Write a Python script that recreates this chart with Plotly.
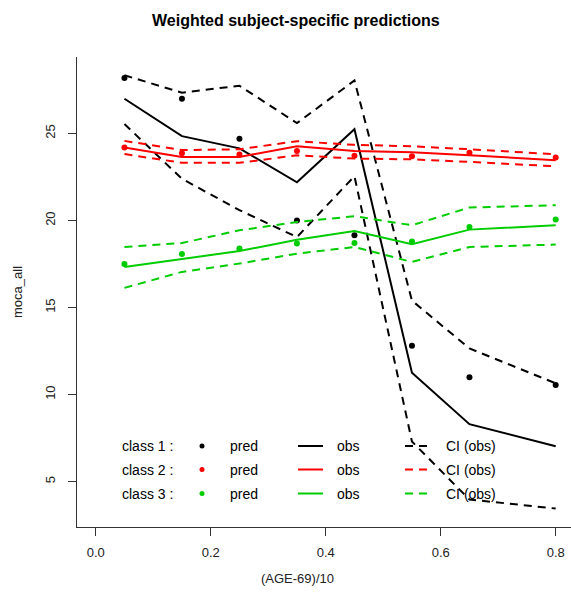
import plotly.graph_objects as go

# ---------------- data ----------------
x_vals = [0.05, 0.15, 0.25, 0.35, 0.45, 0.55, 0.65, 0.80]

c1_pred = [28.2, 27.0, 24.7, 20.0, 19.15, 12.8, 11.0, 10.55]
c1_obs = [27.0, 24.85, 24.15, 22.2, 25.25, 11.25, 8.3, 7.03]
c1_up = [28.35, 27.35, 27.75, 25.6, 28.05, 15.4, 12.65, 10.65]
c1_lo = [25.55, 22.4, 20.6, 19.05, 22.55, 7.3, 3.97, 3.45]

c2_pred = [24.2, 23.87, 23.8, 24.0, 23.72, 23.7, 23.9, 23.62]
c2_obs = [24.2, 23.66, 23.66, 24.27, 24.0, 23.93, 23.75, 23.47]
c2_up = [24.58, 24.05, 24.1, 24.56, 24.35, 24.27, 24.1, 23.81]
c2_lo = [23.82, 23.32, 23.32, 23.75, 23.56, 23.52, 23.37, 23.12]

c3_pred = [17.5, 18.08, 18.4, 18.68, 18.71, 18.79, 19.63, 20.06]
c3_obs = [17.33, 17.8, 18.25, 18.9, 19.4, 18.64, 19.48, 19.73]
c3_up = [18.48, 18.71, 19.44, 19.92, 20.25, 19.73, 20.75, 20.88]
c3_lo = [16.13, 17.05, 17.53, 18.1, 18.48, 17.62, 18.48, 18.62]

x_ticks = [0.0, 0.2, 0.4, 0.6, 0.8]
x_tick_labels = ["0.0", "0.2", "0.4", "0.6", "0.8"]
y_ticks = [5, 10, 15, 20, 25]
y_tick_labels = ["5", "10", "15", "20", "25"]

class_labels = ["class 1 :", "class 2 :", "class 3 :"]
colors = ["#000000", "#FF0000", "#00CD00"]

title_text = "Weighted subject-specific predictions"
x_title = "(AGE-69)/10"
y_title = "moca_all"

# ---------------- figure ----------------
W, H = 571, 598
ML, MR, MT, MB = 77, 0, 57, 71
PW = W - ML - MR
PH = H - MT - MB

def px_x(p):
    return (p - ML) / PW

def px_y(p):
    return (H - MB - p) / PH

fig = go.Figure()

DASH = "8px,6px"
series = [
    (c1_pred, c1_obs, c1_up, c1_lo),
    (c2_pred, c2_obs, c2_up, c2_lo),
    (c3_pred, c3_obs, c3_up, c3_lo),
]
for (pred, obs, up, lo), col in zip(series, colors):
    fig.add_trace(go.Scatter(x=x_vals, y=up, mode="lines",
                             line=dict(color=col, width=2, dash=DASH),
                             showlegend=False, hoverinfo="skip"))
    fig.add_trace(go.Scatter(x=x_vals, y=lo, mode="lines",
                             line=dict(color=col, width=2, dash=DASH),
                             showlegend=False, hoverinfo="skip"))
    fig.add_trace(go.Scatter(x=x_vals, y=obs, mode="lines",
                             line=dict(color=col, width=2),
                             showlegend=False))
    fig.add_trace(go.Scatter(x=x_vals, y=pred, mode="markers",
                             marker=dict(color=col, size=6),
                             showlegend=False))

# ---------------- legend (drawn on helper axes 0..1) ----------------
rows_px = [446, 469.5, 493.5]
dot_px = 202
line_px = (298, 323)
dash_px = (405, 429)
text_font = dict(family="Liberation Sans, Arial, sans-serif", size=14, color="#000000")
annotations = []
for lab, col, ry in zip(class_labels, colors, rows_px):
    yy = px_y(ry)
    fig.add_trace(go.Scatter(x=[px_x(dot_px)], y=[yy], mode="markers",
                             marker=dict(color=col, size=5),
                             xaxis="x2", yaxis="y2", showlegend=False, hoverinfo="skip"))
    fig.add_trace(go.Scatter(x=[px_x(line_px[0]), px_x(line_px[1])], y=[yy, yy], mode="lines",
                             line=dict(color=col, width=2),
                             xaxis="x2", yaxis="y2", showlegend=False, hoverinfo="skip"))
    fig.add_trace(go.Scatter(x=[px_x(dash_px[0]), px_x(dash_px[1])], y=[yy, yy], mode="lines",
                             line=dict(color=col, width=2, dash="8px,6px"),
                             xaxis="x2", yaxis="y2", showlegend=False, hoverinfo="skip"))
    for txt, xl in [(lab, 120), ("pred", 228), ("obs", 335), ("CI (obs)", 444)]:
        annotations.append(dict(text=txt, x=px_x(xl), y=yy, xref="paper", yref="paper",
                                xanchor="left", yanchor="middle", showarrow=False,
                                font=text_font))

annotations.append(dict(text="<b>" + title_text + "</b>", x=px_x(296), y=px_y(21),
                        xref="paper", yref="paper", xanchor="center", yanchor="middle",
                        showarrow=False,
                        font=dict(family="Liberation Sans, Arial, sans-serif", size=16, color="#000000")))
annotations.append(dict(text=x_title, x=px_x(297), y=px_y(578),
                        xref="paper", yref="paper", xanchor="center", yanchor="middle",
                        showarrow=False,
                        font=dict(family="Liberation Sans, Arial, sans-serif", size=13, color="#222222")))
annotations.append(dict(text=y_title, x=px_x(17), y=px_y(292), textangle=-90,
                        xref="paper", yref="paper", xanchor="center", yanchor="middle",
                        showarrow=False,
                        font=dict(family="Liberation Sans, Arial, sans-serif", size=13, color="#222222")))

axis_font = dict(family="Liberation Sans, Arial, sans-serif", size=13, color="#222222")
fig.update_layout(
    width=W, height=H,
    margin=dict(l=ML, r=MR, t=MT, b=MB, pad=0),
    paper_bgcolor="white", plot_bgcolor="white",
    showlegend=False,
    annotations=annotations,
    xaxis=dict(range=[-0.0325, 0.8266], tickvals=x_ticks, ticktext=x_tick_labels,
               showgrid=False, zeroline=False, showline=True, linecolor="#333333", linewidth=1,
               ticks="outside", ticklen=8, tickcolor="#333333", tickfont=axis_font,
               ticklabelstandoff=5, fixedrange=True),
    yaxis=dict(range=[2.39, 29.4], tickvals=y_ticks, ticktext=y_tick_labels, tickangle=-90,
               showgrid=False, zeroline=False, showline=True, linecolor="#333333", linewidth=1,
               ticks="outside", ticklen=8, tickcolor="#333333", tickfont=axis_font,
               ticklabelstandoff=8, fixedrange=True),
    xaxis2=dict(range=[0, 1], overlaying="x", visible=False, fixedrange=True),
    yaxis2=dict(range=[0, 1], overlaying="y", visible=False, fixedrange=True),
)

fig.write_html("out.html", config={"displayModeBar": False},
               post_script="document.body.style.margin='0';document.body.style.overflow='hidden';")
